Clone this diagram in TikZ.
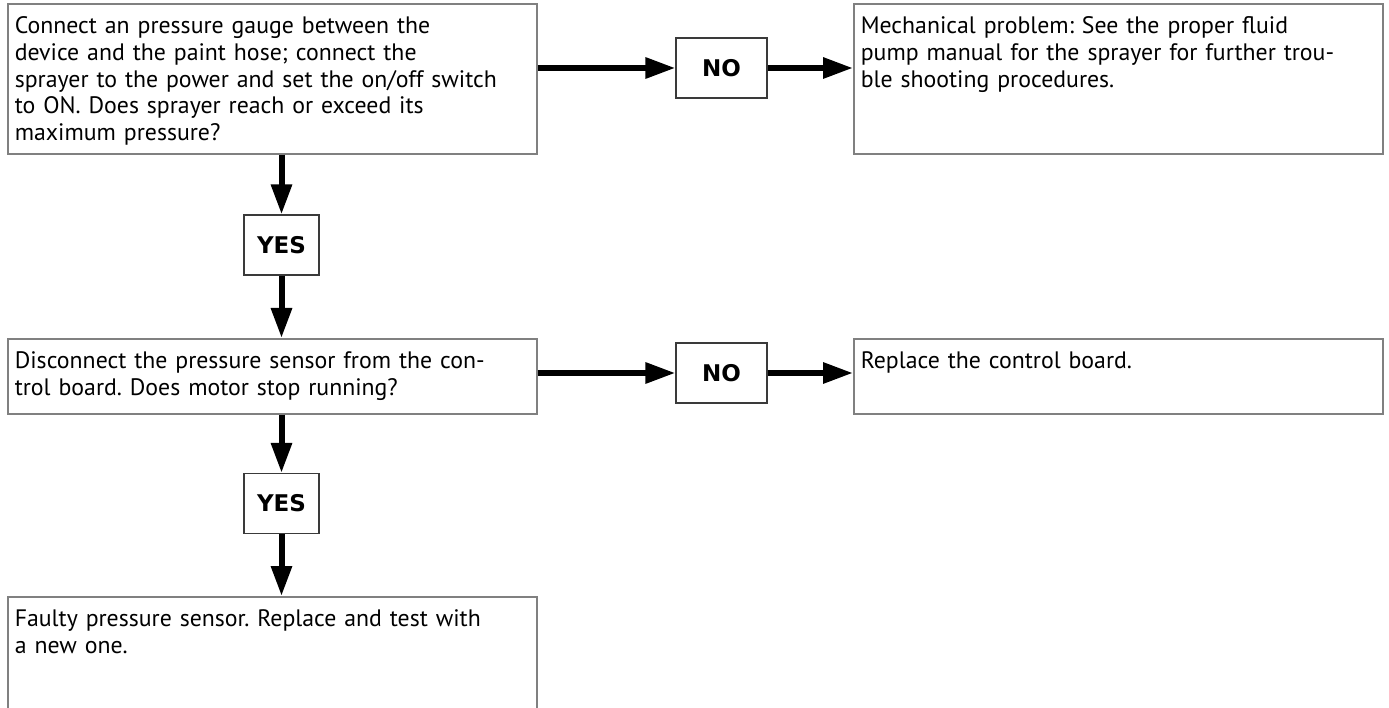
\documentclass[tikz,border=0pt]{standalone}
\usepackage{fontspec}
\setmainfont{PT Sans}
\newfontfamily\labelfont{DejaVu Sans}
\usetikzlibrary{calc, arrows.meta}
\definecolor{boxgray}{HTML}{808080}
\definecolor{tagdark}{HTML}{3A3A3A}
\definecolor{flowdark}{HTML}{000000}
\frenchspacing

\begin{document}
\begin{tikzpicture}[
    x=1pt, y=1pt,
    stepbox/.style={draw=boxgray, line width=1.6pt, anchor=north west,
        text width=515pt, align=left, inner xsep=7pt, inner ysep=0pt,
        text height=30pt, font=\fontsize{23.8}{26.7}\selectfont},
    tag/.style={draw=tagdark, line width=1.2pt, minimum width=91pt,
        minimum height=60pt, inner sep=0pt,
        font=\labelfont\bfseries\fontsize{23}{26}\selectfont},
    flow/.style={line width=6pt, flowdark, -{Triangle[length=30pt, width=20pt]}}
]

\useasboundingbox (0,0) rectangle (1389,-708);

% Questions (left column)
\node[stepbox, text depth=120pt] (q1) at (7,-3)
    {Connect an pressure gauge between the\\
     device and the paint hose; connect the\\
     sprayer to the power and set the on/off switch\\
     to ON. Does sprayer reach or exceed its\\
     maximum pressure?};
\node[stepbox, text depth=45pt] (q2) at (7,-338)
    {Disconnect the pressure sensor from the con-\\
     trol board. Does motor stop running?};
\node[stepbox, text depth=160pt] (q3) at (7,-596)
    {Faulty pressure sensor. Replace and test with\\
     a new one.};

% Answers (right column)
\node[stepbox, text depth=120pt] (a1) at (853,-3)
    {Mechanical problem: See the proper fluid\\
     pump manual for the sprayer for further trou-\\
     ble shooting procedures.};
\node[stepbox, text depth=45pt] (a2) at (853,-338)
    {Replace the control board.};

% Decision tags
\node[tag] (no1) at (721.5,-68) {NO};
\node[tag] (no2) at (721.5,-373) {NO};
\node[tag, minimum width=75pt] (yes1) at (281.5,-245) {YES};
\node[tag, minimum width=75pt] (yes2) at (281.5,-503.5) {YES};

% NO branches
\draw[flow] (q1.east |- no1) -- (no1);
\draw[flow] (no1) -- (a1.west |- no1);
\draw[flow] (q2.east |- no2) -- (no2);
\draw[flow] (no2) -- (a2.west |- no2);

% YES branches
\draw[flow] (q1.south -| yes1) -- (yes1);
\draw[flow] (yes1) -- (q2.north -| yes1);
\draw[flow] (q2.south -| yes2) -- (yes2);
\draw[flow] (yes2) -- (q3.north -| yes2);

\end{tikzpicture}
\end{document}
